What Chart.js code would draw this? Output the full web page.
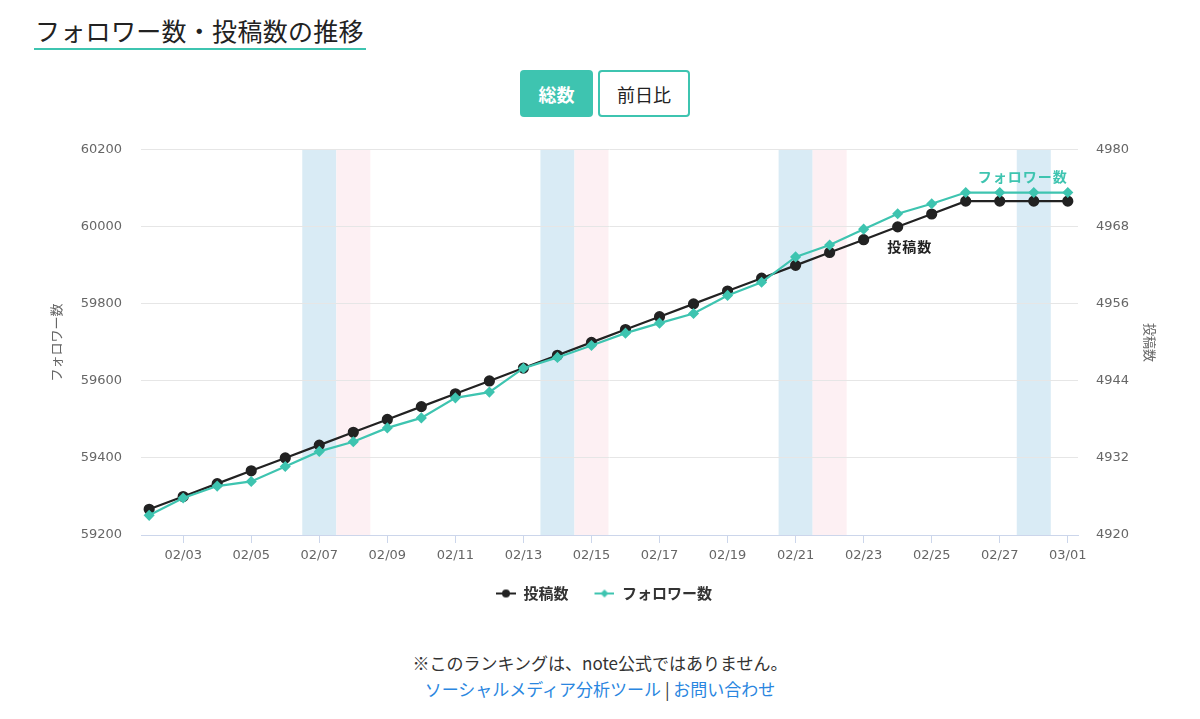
<!DOCTYPE html>
<html lang="ja">
<head>
<meta charset="utf-8">
<script src="https://cdn.jsdelivr.net/npm/chart.js@4.4.1/dist/chart.umd.min.js"></script>
<style>
    html, body { margin: 0; padding: 0; background: #fff; }
    body { width: 1200px; height: 719px; position: relative; overflow: hidden;
        font-family: "Noto Sans CJK JP", "Noto Sans", sans-serif; color: #222; }
    .title { position: absolute; left: 34px; top: 12px; font-size: 25px; line-height: 36px; margin: 0; font-weight: normal;
        border-bottom: 2px solid #3ec4b0; padding: 0 2px 0 1px; letter-spacing: 0.3px; }
    .btns { position: absolute; left: 520px; top: 70px; display: flex; gap: 5px; }
    .btn { height: 47px; box-sizing: border-box; border-radius: 4px; font-size: 18px; display: flex;
        align-items: center; justify-content: center; }
    .btn.on { width: 73px; background: #3ec4b0; color: #fff; font-weight: bold; }
    .btn.off { width: 92px; border: 2px solid #3ec4b0; color: #222; }
    .wrap { position: absolute; left: 0; top: 123px; width: 1200px; height: 508px; }
    .note { position: absolute; left: 0; width: 1200px; text-align: center; font-size: 17px; color: #333; }
    .note a { color: #2a86e0; text-decoration: none; }
</style>
</head>
<body>
<h2 class="title">フォロワー数・投稿数の推移</h2>
<div class="btns"><div class="btn on">総数</div><div class="btn off">前日比</div></div>
<div class="wrap"><canvas id="trendChart"></canvas></div>
<div class="note" style="top:650px">※このランキングは、note公式ではありません。</div>
<div class="note" style="top:676px"><a>ソーシャルメディア分析ツール</a> | <a>お問い合わせ</a></div>
<script>
    const dates = ['02/02', '02/03', '02/04', '02/05', '02/06', '02/07', '02/08', '02/09', '02/10', '02/11',
        '02/12', '02/13', '02/14', '02/15', '02/16', '02/17', '02/18', '02/19', '02/20', '02/21',
        '02/22', '02/23', '02/24', '02/25', '02/26', '02/27', '02/28', '03/01'];
    const posts = [4924, 4926, 4928, 4930, 4932, 4934, 4936, 4938, 4940, 4942,
        4944, 4946, 4948, 4950, 4952, 4954, 4956, 4958, 4960, 4962,
        4964, 4966, 4968, 4970, 4972, 4972, 4972, 4972];
    const followers = [59251, 59296, 59327, 59339, 59378, 59417, 59442, 59478, 59504, 59556,
        59571, 59633, 59661, 59692, 59724, 59750, 59775, 59822, 59856, 59922,
        59953, 59994, 60034, 60060, 60089, 60089, 60089, 60089];
    const shownDates = ['02/03', '02/05', '02/07', '02/09', '02/11', '02/13', '02/15',
        '02/17', '02/19', '02/21', '02/23', '02/25', '02/27', '03/01'];
    const saturdays = ['02/07', '02/14', '02/21', '02/28'];
    const sundays = ['02/08', '02/15', '02/22'];

    const BLACK = '#222222', TEAL = '#3ec4b0';
    const fontFamily = '"Noto Sans CJK JP", "Noto Sans", sans-serif';
    const tickFont = {family: '"DejaVu Sans", sans-serif', size: 13};

    const toPoints = arr => arr.map((y, i) => ({x: i, y}));

    // 凡例用のマーカー（線＋点）
    const legendMarker = (color, style) => {
        const c = document.createElement('canvas');
        c.width = 28;
        c.height = 12;
        const g = c.getContext('2d');
        g.strokeStyle = color;
        g.fillStyle = color;
        g.lineWidth = 2;
        g.beginPath();
        g.moveTo(8, 6);
        g.lineTo(28, 6);
        g.stroke();
        g.beginPath();
        if (style === 'circle') {
            g.arc(18, 6, 4, 0, Math.PI * 2);
        } else {
            g.moveTo(18, 2); g.lineTo(22, 6); g.lineTo(18, 10); g.lineTo(14, 6);
            g.closePath();
        }
        g.fill();
        return c;
    };

    // 土日の帯
    const weekendBands = {
        id: 'weekendBands',
        beforeDraw(chart) {
            const {ctx, chartArea: a, scales: {x}} = chart;
            const fill = (list, color) => {
                for (const d of list) {
                    const i = dates.indexOf(d);
                    const x0 = Math.max(a.left, x.getPixelForValue(i - 0.5));
                    const x1 = Math.min(a.right, x.getPixelForValue(i + 0.5));
                    ctx.fillStyle = color;
                    ctx.fillRect(x0, a.top, x1 - x0, a.bottom - a.top);
                }
            };
            ctx.save();
            fill(saturdays, '#d9ebf5');
            fill(sundays, '#fdf0f3');
            ctx.restore();
        }
    };

    // 系列名ラベル
    const seriesLabels = {
        id: 'seriesLabels',
        afterDatasetsDraw(chart) {
            const {ctx, scales} = chart;
            ctx.save();
            ctx.font = `bold 14px ${fontFamily}`;
            ctx.letterSpacing = '1px';
            ctx.textBaseline = 'middle';

            const last = followers.length - 1;
            ctx.fillStyle = TEAL;
            ctx.textAlign = 'right';
            ctx.fillText('フォロワー数', scales.x.getPixelForValue(last), scales.yL.getPixelForValue(followers[last]) - 16);

            const k = dates.indexOf('02/24');
            ctx.fillStyle = BLACK;
            ctx.textAlign = 'center';
            ctx.fillText('投稿数', scales.x.getPixelForValue(k) + 12, scales.yR.getPixelForValue(posts[k]) + 20);
            ctx.restore();
        }
    };

    new Chart(document.getElementById('trendChart'), {
        type: 'line',
        data: {
            datasets: [{
                label: '投稿数',
                data: toPoints(posts),
                yAxisID: 'yR',
                borderColor: BLACK,
                backgroundColor: BLACK,
                borderWidth: 2.2,
                pointStyle: 'circle',
                pointRadius: 4.5,
                order: 1
            }, {
                label: 'フォロワー数',
                data: toPoints(followers),
                yAxisID: 'yL',
                borderColor: TEAL,
                backgroundColor: TEAL,
                borderWidth: 2.2,
                pointStyle: 'rectRot',
                pointRadius: 4,
                order: 0
            }]
        },
        options: {
            responsive: true,
            maintainAspectRatio: false,
            animation: false,
            layout: {padding: {top: 10, bottom: 20, left: 0, right: 0}},
            scales: {
                x: {
                    type: 'linear',
                    min: -0.24,
                    max: 27.3,
                    afterBuildTicks: s => {
                        s.ticks = shownDates.map(d => ({value: dates.indexOf(d)}));
                    },
                    afterFit: s => { s.height = 33; },
                    ticks: {
                        callback: v => dates[v],
                        color: '#666',
                        font: tickFont,
                        padding: 5,
                        maxRotation: 0,
                        autoSkip: false
                    },
                    grid: {drawOnChartArea: false, drawTicks: true, tickLength: 8, color: '#ccd6eb'},
                    border: {color: '#ccd6eb', width: 1}
                },
                yL: {
                    position: 'left',
                    min: 59200,
                    max: 60200,
                    afterFit: s => { s.width = 141; },
                    ticks: {stepSize: 200, color: '#666', font: tickFont, padding: 19, callback: v => String(v)},
                    grid: {color: '#e6e6e6', drawTicks: false},
                    border: {display: false},
                    title: {display: true, text: 'フォロワー数', color: '#666',
                        font: {family: fontFamily, size: 13}, padding: {top: 48}}
                },
                yR: {
                    position: 'right',
                    min: 4920,
                    max: 4980,
                    afterFit: s => { s.width = 122; },
                    ticks: {stepSize: 12, color: '#666', font: tickFont, padding: 18, callback: v => String(v)},
                    grid: {drawOnChartArea: false, drawTicks: false},
                    border: {display: false},
                    title: {display: true, text: '投稿数', color: '#666',
                        font: {family: fontFamily, size: 13}, padding: {top: 42}}
                }
            },
            plugins: {
                legend: {
                    position: 'bottom',
                    labels: {
                        usePointStyle: true,
                        pointStyleWidth: 28,
                        color: '#333',
                        font: {family: fontFamily, size: 15, weight: 'bold'},
                        padding: 18,
                        generateLabels: chart => chart.data.datasets.map((ds, i) => ({
                            text: ds.label,
                            fillStyle: ds.borderColor,
                            strokeStyle: ds.borderColor,
                            lineWidth: 0,
                            pointStyle: legendMarker(ds.borderColor, ds.pointStyle),
                            fontColor: '#333',
                            datasetIndex: i
                        }))
                    }
                },
                tooltip: {enabled: false}
            }
        },
        plugins: [weekendBands, seriesLabels]
    });
</script>
</body>
</html>
